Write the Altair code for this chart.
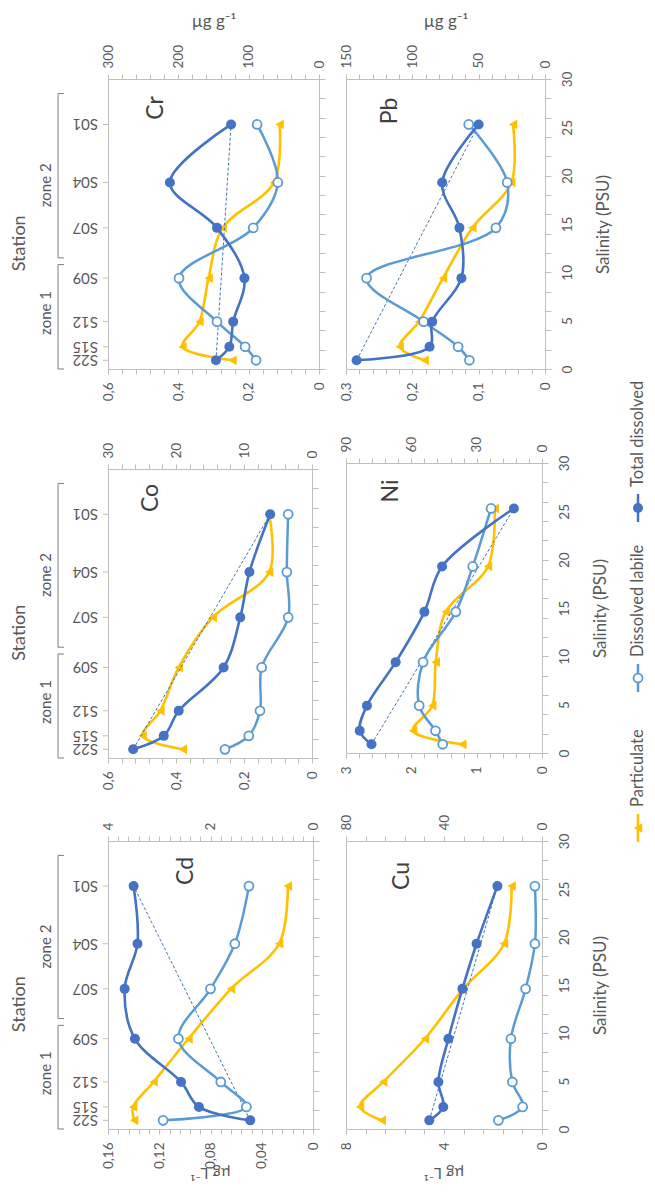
import altair as alt
import pandas as pd

# ---------------- data ----------------
stations = ["S22", "S15", "S12", "S09", "S07", "S04", "S01"]
salinity = [0.9, 2.3, 4.9, 9.4, 14.6, 19.3, 25.3]

cd_total = [0.049, 0.089, 0.103, 0.139, 0.147, 0.137, 0.140]
cd_labile = [0.117, 0.052, 0.072, 0.105, 0.080, 0.061, 0.050]
cd_particulate = [3.49, 3.51, 3.11, 2.43, 1.60, 0.66, 0.49]

co_total = [0.526, 0.436, 0.392, 0.260, 0.211, 0.184, 0.123]
co_labile = [0.256, 0.186, 0.153, 0.148, 0.070, 0.074, 0.070]
co_particulate = [19.0, 24.9, 22.3, 19.6, 14.6, 6.3, 6.3]

cr_total = [0.293, 0.255, 0.244, 0.212, 0.290, 0.424, 0.250]
cr_labile = [0.179, 0.210, 0.290, 0.398, 0.187, 0.117, 0.176]
cr_particulate = [123, 194, 170, 157, 137, 64, 56]

cu_total = [4.60, 4.03, 4.23, 3.82, 3.25, 2.67, 1.82]
cu_labile = [1.78, 0.79, 1.21, 1.27, 0.67, 0.29, 0.29]
cu_particulate = [65.4, 74.3, 64.8, 47.8, 32.2, 15.5, 12.4]

ni_total = [2.61, 2.79, 2.68, 2.24, 1.80, 1.53, 0.43]
ni_labile = [1.52, 1.63, 1.88, 1.82, 1.32, 1.06, 0.78]
ni_particulate = [36.6, 59.2, 50.4, 48.8, 44.2, 24.8, 21.7]

pb_total = [0.284, 0.174, 0.170, 0.126, 0.129, 0.155, 0.100]
pb_labile = [0.114, 0.131, 0.183, 0.269, 0.074, 0.057, 0.115]
pb_particulate = [90.7, 109.5, 95.0, 76.9, 54.8, 25.4, 24.1]

# axis ranges: (max, major, minor) dissolved (µg L-1) and particulate (µg g-1)
dissolved_axis = {"Cd": (0.16, 0.04, 0.008), "Co": (0.6, 0.2, 0.04), "Cr": (0.6, 0.2, 0.04),
                  "Cu": (8, 4, 0.8), "Ni": (3, 1, 0.2), "Pb": (0.3, 0.1, 0.02)}
particulate_axis = {"Cd": (4, 2, 0.2), "Co": (30, 10, 2), "Cr": (300, 100, 20),
                    "Cu": (80, 40, 8), "Ni": (90, 30, 6), "Pb": (150, 50, 10)}

series_names = ["Total dissolved", "Dissolved labile", "Particulate"]
zone_names = ["zone 1", "zone 2"]
zone_start = [0.0, 11.5]
zone_end = [10.8, 28.5]
zone_label_at = [5.8, 19.0]

# ---------------- style ----------------
DARK = "#4472C4"
LIGHT = "#5B9BD5"
YELLOW = "#FFC000"
FRAME = "#bfbfbf"
LAB = "#595959"
FONT = "Lato"


def steps(mx, step):
    n = int(round(mx / step))
    return [round(i * step, 6) for i in range(n + 1)]


def label_expr(major):
    return (f"abs(datum.value/{major} - round(datum.value/{major})) < 1e-6 ? "
            "replace(format(datum.value, '.2~f'), '.', ',') : ''")


SAL_VALUES = sorted(set(range(0, 31, 2)) | set(range(0, 31, 5)))


def make_panel(el, total, labile, part, col, row, w, h, tx, ty, extra=None):
    dmax, dmajor, dminor = dissolved_axis[el]
    pmax, pmajor, pminor = particulate_axis[el]

    yscale = alt.Scale(domain=[0, 30], nice=False, zero=False)
    yaxis = alt.Axis(
        orient="right", values=SAL_VALUES, grid=False, domainColor=FRAME,
        tickColor=FRAME, tickSize=6,
        tickOpacity={"condition": {"test": "datum.value % 2 === 0", "value": 1}, "value": 0},
        labels=(col == 1), labelExpr="datum.value % 5 === 0 ? datum.label : ''",
        labelAngle=270, labelAlign="center", labelBaseline="top", labelPadding=9,
        labelFontSize=13.5, labelColor=LAB, labelOverlap=False, labelFlush=False,
        title=("Salinity (PSU)" if col == 1 else None), titleAngle=270,
        titleBaseline="top", titleAlign="center", titlePadding=22,
        titleFontSize=17, titleFontWeight="normal", titleColor=LAB)

    def Y(f="sal"):
        return alt.Y(f"{f}:Q", scale=yscale, axis=yaxis)

    xd_axis = alt.Axis(
        orient="bottom", values=steps(dmax, dminor), labelExpr=label_expr(dmajor),
        grid=False, domainColor=FRAME, tickColor=FRAME, tickSize=5,
        labelAngle=270, labelAlign="right", labelBaseline="middle", labelPadding=8,
        labelFontSize=13.5, labelColor=LAB, labelOverlap=False, labelFlush=False,
        title=None)
    xp_axis = alt.Axis(
        orient="top", values=steps(pmax, pminor), labelExpr=label_expr(pmajor),
        grid=False, domainColor=FRAME, tickColor=FRAME, tickSize=5,
        labelAngle=270, labelAlign="left", labelBaseline="middle", labelPadding=6,
        labelFontSize=13.5, labelColor=LAB, labelOverlap=False, labelFlush=False,
        title=("µg g⁻¹" if row == 0 else None), titleAngle=0,
        titlePadding=14, titleFontSize=17, titleFontWeight="normal", titleColor=LAB)

    xd = alt.X("v:Q", scale=alt.Scale(domain=[0, dmax], reverse=True, nice=False, zero=True), axis=xd_axis)
    xp = alt.X("v:Q", scale=alt.Scale(domain=[0, pmax], reverse=True, nice=False, zero=True), axis=xp_axis)

    df_t = pd.DataFrame({"sal": salinity, "v": total})
    df_l = pd.DataFrame({"sal": salinity, "v": labile})
    df_p = pd.DataFrame({"sal": salinity, "v": part})
    df_mix = df_t.iloc[[0, len(df_t) - 1]]

    mix = alt.Chart(df_mix).mark_line(color=DARK, strokeWidth=1, strokeDash=[3, 2]).encode(
        x=xd, y=Y(), order="sal:Q")
    lab_line = alt.Chart(df_l).mark_line(color=LIGHT, strokeWidth=2.5, interpolate="catmull-rom").encode(
        x=xd, y=Y(), order="sal:Q")
    lab_pts = alt.Chart(df_l).mark_point(shape="circle", size=80, fill="white", stroke=LIGHT,
                                         strokeWidth=1.8, opacity=1, fillOpacity=1).encode(x=xd, y=Y())
    tot_line = alt.Chart(df_t).mark_line(color=DARK, strokeWidth=2.6, interpolate="catmull-rom").encode(
        x=xd, y=Y(), order="sal:Q")
    tot_pts = alt.Chart(df_t).mark_point(shape="circle", size=100, filled=True, color=DARK,
                                         opacity=1).encode(x=xd, y=Y())
    dissolved = alt.layer(mix, lab_line, lab_pts, tot_line, tot_pts)

    p_line = alt.Chart(df_p).mark_line(color=YELLOW, strokeWidth=2.6, interpolate="catmull-rom").encode(
        x=xp, y=Y(), order="sal:Q")
    p_pts = alt.Chart(df_p).mark_point(shape="triangle-left", size=95, filled=True, color=YELLOW,
                                       opacity=1).encode(x=xp, y=Y())
    particulate = alt.layer(p_line, p_pts)

    title = alt.Chart(pd.DataFrame({"t": [el]})).mark_text(
        angle=270, fontSize=23, color="#404040", align="center", baseline="middle").encode(
        text="t:N", x=alt.value(tx), y=alt.value(ty))

    layers = [particulate, dissolved, title]

    if row == 2:
        unit = alt.Chart(pd.DataFrame({"t": ["µg L⁻¹"]})).mark_text(
            angle=180, fontSize=15.5, color=LAB, align="center", baseline="middle").encode(
            text="t:N", x=alt.value(w / 2), y=alt.value(h + 44))
        layers.append(unit)

    if col == 0:
        st_df = pd.DataFrame({"sal": salinity, "st": stations})
        st_text = alt.Chart(st_df).mark_text(angle=180, align="left", baseline="middle",
                                             fontSize=15, color=LAB).encode(
            y=Y(), x=alt.value(-10), text="st:N")
        st_ticks = alt.Chart(st_df).mark_rule(color=FRAME, strokeWidth=1).encode(
            y=Y(), x=alt.value(-5), x2=alt.value(0))
        zdf = pd.DataFrame({"y0": zone_start, "y1": zone_end, "mid": zone_label_at, "z": zone_names})
        ends = pd.DataFrame({"ye": zone_start + zone_end})
        bracket = alt.Chart(zdf).mark_rule(color="#7f7f7f", strokeWidth=1).encode(
            y=Y("y0"), y2=alt.Y2("y1:Q"), x=alt.value(-50))
        bracket_ends = alt.Chart(ends).mark_rule(color="#7f7f7f", strokeWidth=1).encode(
            y=Y("ye"), x=alt.value(-50), x2=alt.value(-44))
        zone_txt = alt.Chart(zdf).mark_text(angle=270, align="center", baseline="middle",
                                            fontSize=15, color=LAB).encode(
            y=Y("mid"), x=alt.value(-62), text="z:N")
        station_title = alt.Chart(pd.DataFrame({"t": ["Station"], "sal": [13.0]})).mark_text(
            angle=270, align="center", baseline="middle", fontSize=18, color=LAB).encode(
            y=Y(), x=alt.value(-88), text="t:N")
        layers += [st_ticks, st_text, bracket, bracket_ends, zone_txt, station_title]

    if extra:
        layers += extra

    return alt.layer(*layers).resolve_scale(x="independent").properties(width=w, height=h)


def legend_layers(x0, ys):
    out = []
    styles = {
        "Total dissolved": dict(shape="circle", filled=True, color=DARK, size=100, opacity=1),
        "Dissolved labile": dict(shape="circle", fill="white", stroke=LIGHT, strokeWidth=1.8,
                                 size=80, opacity=1, fillOpacity=1),
        "Particulate": dict(shape="triangle-left", filled=True, color=YELLOW, size=95, opacity=1),
    }
    colors = {"Total dissolved": DARK, "Dissolved labile": LIGHT, "Particulate": YELLOW}
    for name, sy in zip(series_names, ys):
        d = pd.DataFrame({"n": [name]})
        out.append(alt.Chart(d).mark_rule(color=colors[name], strokeWidth=2.5).encode(
            x=alt.value(x0), y=alt.value(sy - 14), y2=alt.value(sy + 14)))
        out.append(alt.Chart(d).mark_point(**styles[name]).encode(x=alt.value(x0), y=alt.value(sy)))
        out.append(alt.Chart(d).mark_text(angle=270, align="left", baseline="middle", fontSize=16.5,
                                          color=LAB).encode(
            x=alt.value(x0), y=alt.value(sy - 21), text="n:N"))
    return out


def spacer(h):
    return alt.Chart(pd.DataFrame({"z": [0]})).mark_point(opacity=0).encode(
        x=alt.value(0), y=alt.value(0)).properties(
        width=1, height=h, view=alt.ViewBackground(stroke="transparent"))


cr = make_panel("Cr", cr_total, cr_labile, cr_particulate, 0, 0, 211, 290, 48, 29)
co = make_panel("Co", co_total, co_labile, co_particulate, 0, 1, 204, 289, 43, 29)
cd = make_panel("Cd", cd_total, cd_labile, cd_particulate, 0, 2, 205, 288, 78, 30)
pb = make_panel("Pb", pb_total, pb_labile, pb_particulate, 1, 0, 199, 290, 44, 32)
ni = make_panel("Ni", ni_total, ni_labile, ni_particulate, 1, 1, 196, 290, 45, 28,
                extra=legend_layers(292, [45, 215, 365]))
cu = make_panel("Cu", cu_total, cu_labile, cu_particulate, 1, 2, 196, 288, 56, 35)

left = alt.vconcat(cr, spacer(100), co, spacer(83), cd, spacing=0, bounds="flush")
right = alt.vconcat(pb, spacer(94), ni, spacer(88), cu, spacing=0, bounds="flush")

chart = alt.hconcat(left, right, spacing=12).properties(
    padding={"left": 2, "top": 4, "right": 0, "bottom": 3}
).configure(font=FONT).configure_view(stroke=FRAME, strokeWidth=1)

chart.save("out.html", embed_options={"renderer": "svg", "actions": False})
